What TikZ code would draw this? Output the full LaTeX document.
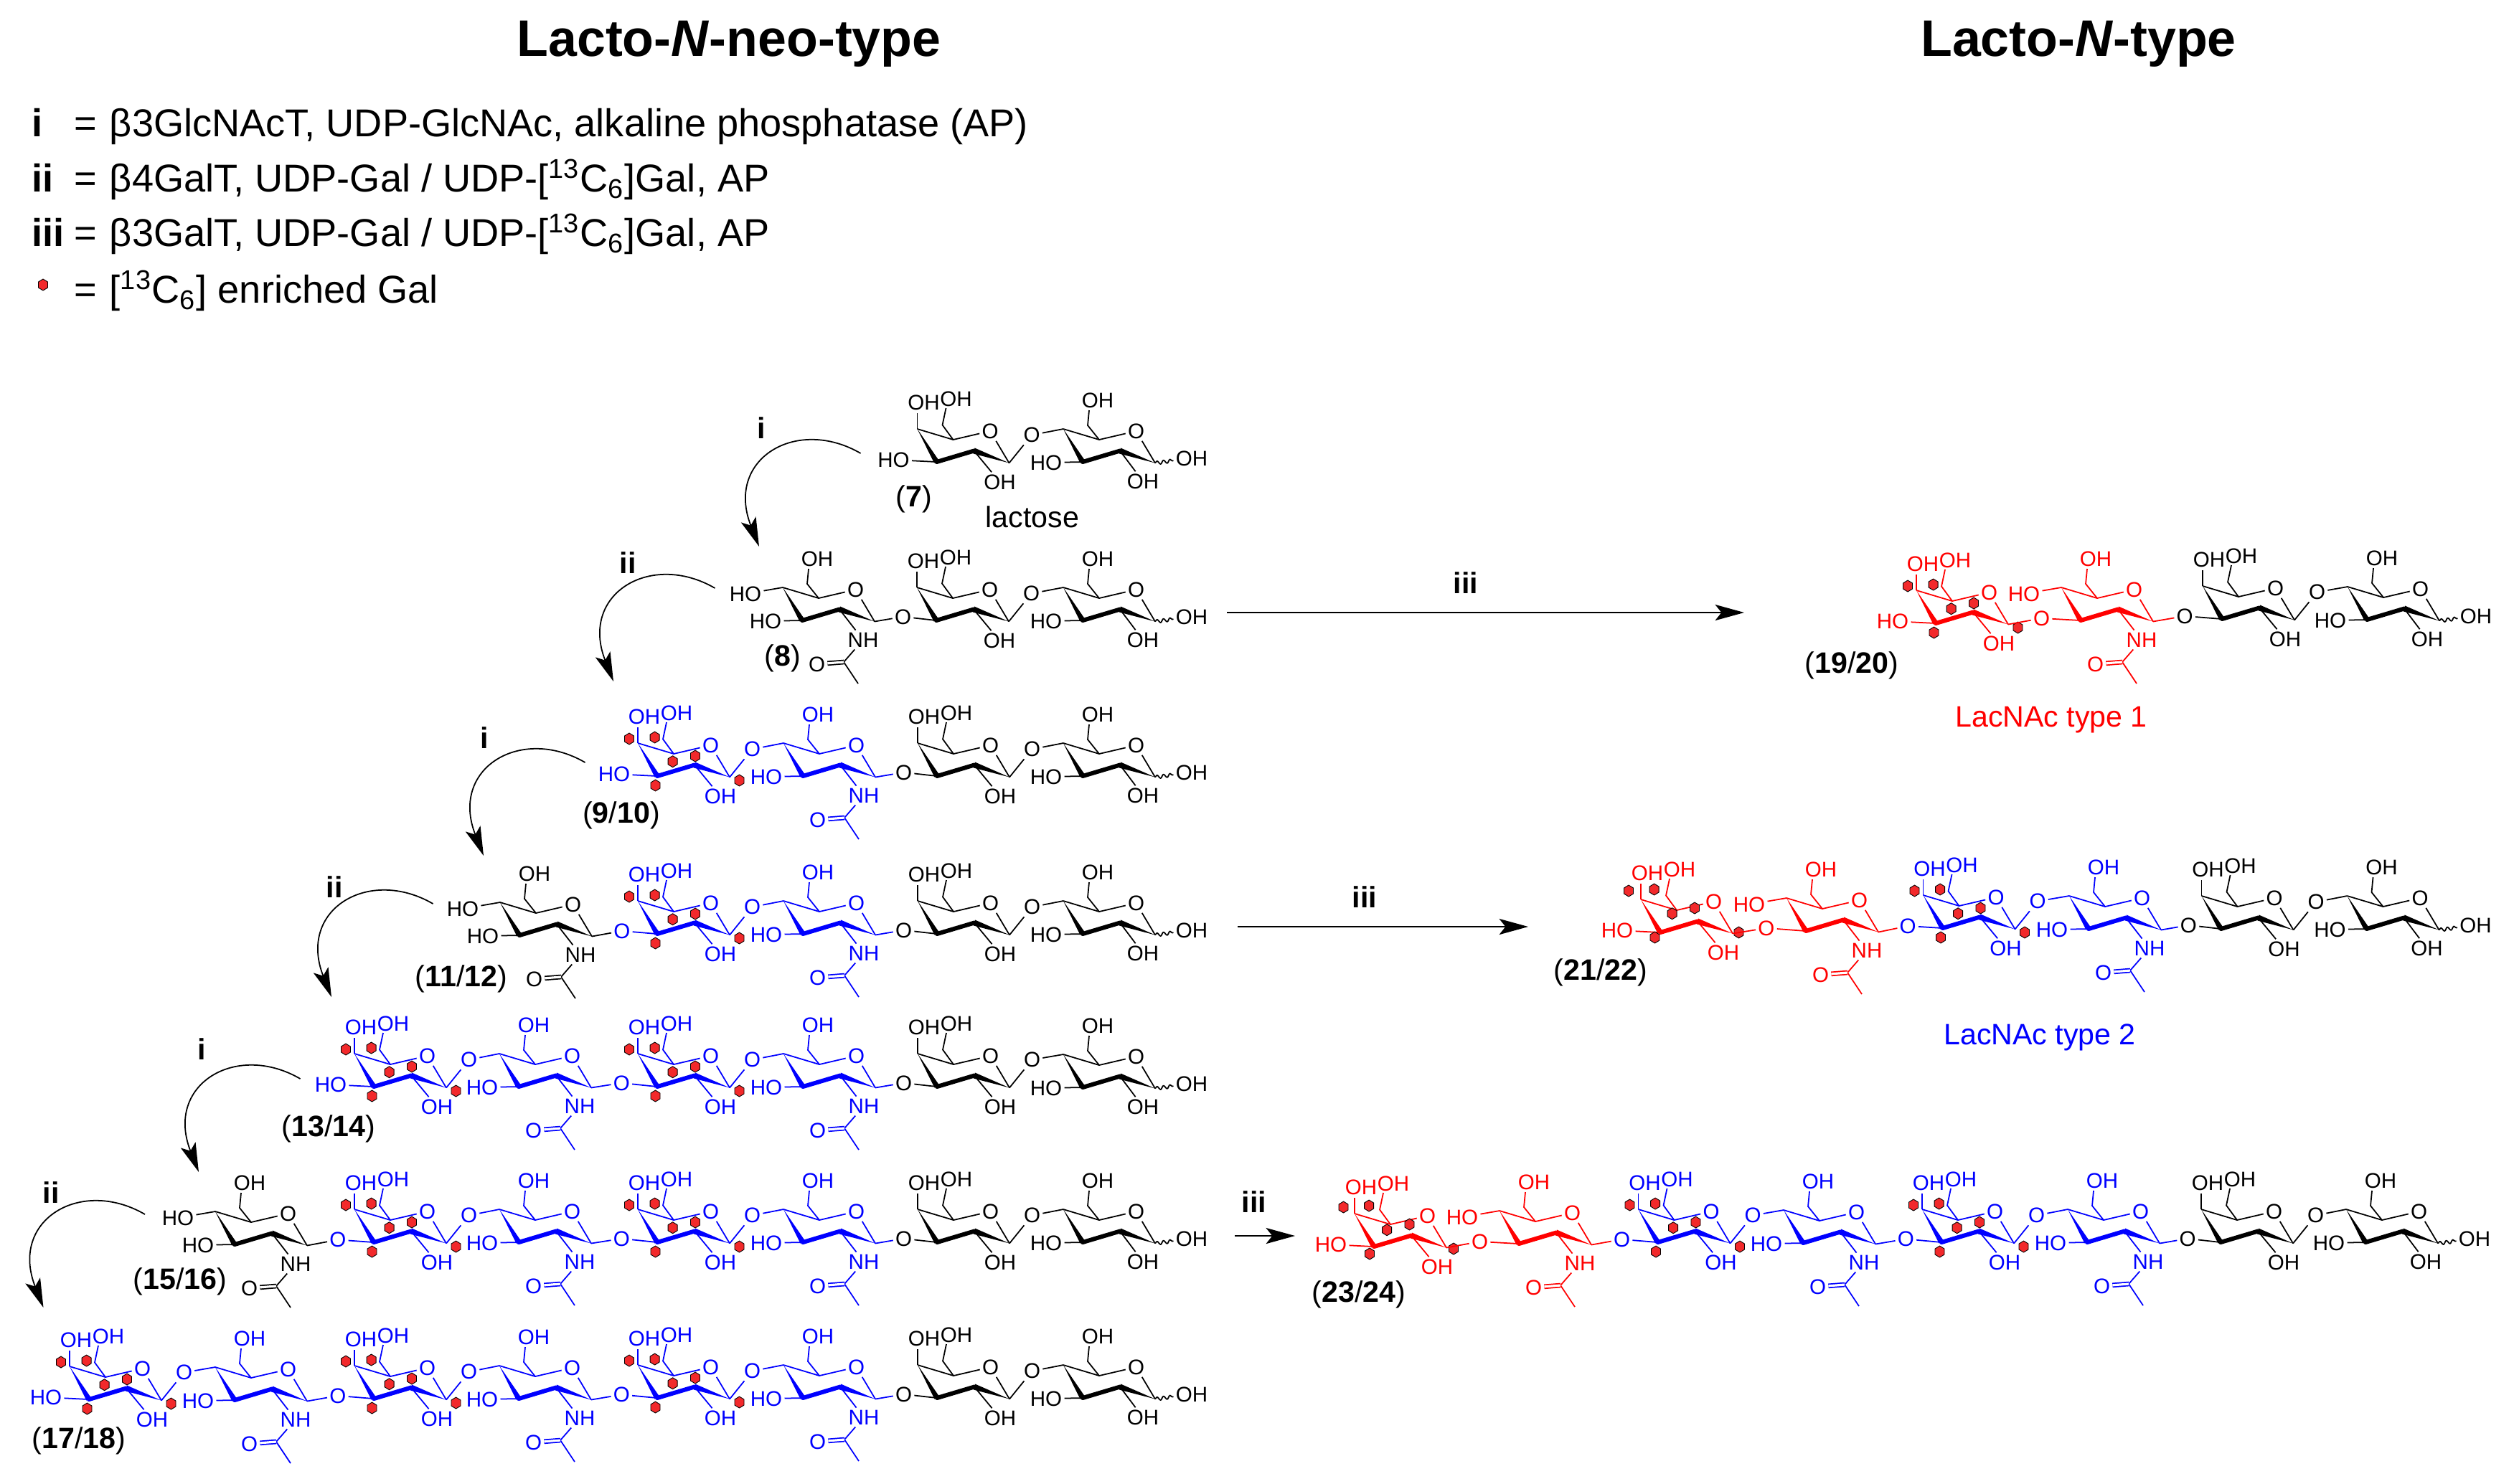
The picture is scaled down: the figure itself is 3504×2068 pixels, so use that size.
\documentclass[tikz,border=0pt]{standalone}
\usepackage{fontspec}
\setmainfont{Liberation Sans}
\usepackage{xcolor}
\definecolor{label13c}{rgb}{0.95, 0.16, 0.17}
\usetikzlibrary{arrows.meta}
\usetikzlibrary{decorations.pathmorphing}
\usetikzlibrary{calc}

\tikzset{
	atom/.style={font=\fontsize{8.4}{9}\selectfont, inner sep=0.7pt},
	boldbond/.style={line width=1.7pt, line cap=round},
	dblbond/.style={double, double distance=0.9pt},
	wavybond/.style={decorate, decoration={snake, amplitude=0.7pt, segment length=2.6pt}},
	hexmark/.style={fill=label13c, draw=black, line width=0.25pt},
	number/.style={font=\fontsize{11.7}{13}\selectfont, anchor=base, inner sep=0pt},
	reagent/.style={font=\fontsize{11.7}{13}\selectfont\bfseries, anchor=base, inner sep=0pt},
	legend/.style={font=\fontsize{15.4}{17}\selectfont, anchor=base west, inner sep=0pt},
	heading/.style={font=\fontsize{20.4}{22}\selectfont\bfseries, anchor=base, inner sep=0pt},
	arrowline/.style={-{Stealth[length=11.5pt, width=6.3pt, inset=2.5pt]}},
}

%one ring, all units have the same ring
\newcommand{\ringcore}[4]{
	\begin{scope}[shift={(#2,#3)},#4]
		\coordinate (#1c4) at (0,0);
		\coordinate (#1c5) at (50,15);
		\coordinate (#1c1) at (128,47.5);
		\coordinate (#1c2) at (79,30.5);
		\coordinate (#1c3) at (27,46);
		\node[atom] (#1o) at (101.5,3) {O};
		\draw (#1c4) -- (#1c5) -- (#1o) -- (#1c1);
		\fill (#1c4) -- (23.5,47.5) -- (30.5,44.5) -- cycle;
		\draw[boldbond] (#1c3) -- (#1c2);
		\fill (#1c1) -- (80,26.5) -- (78,34.5) -- cycle;
	\end{scope}
}
%galactose
\newcommand{\galunit}[4]{
	\ringcore{#1}{#2}{#3}{#4}
	\begin{scope}[shift={(#2,#3)},#4]
		\coordinate (#1c6) at (35,-5.5);
		\coordinate (#1e6) at (40,-29);
		\coordinate (#1e4) at (0,-22);
		\node[atom] (#1oh6) at (54,-42) {OH};
		\node[atom] (#1oh4) at (9,-37) {OH};
		\node[atom] (#1oh2) at (115,74) {OH};
		\draw (#1c5) -- (#1c6) -- (#1e6);
		\draw (#1c4) -- (#1e4);
		\draw (#1c2) -- (#1oh2);
	\end{scope}
}
%same upper arm for glucose and glcnac
\newcommand{\glcbase}[4]{
	\ringcore{#1}{#2}{#3}{#4}
	\begin{scope}[shift={(#2,#3)},#4]
		\coordinate (#1c6) at (34,-5);
		\coordinate (#1e6) at (36,-26);
		\node[atom] (#1oh6) at (48,-40) {OH};
		\draw (#1c5) -- (#1c6) -- (#1e6);
	\end{scope}
}
\newcommand{\glcunit}[4]{
	\glcbase{#1}{#2}{#3}{#4}
	\begin{scope}[shift={(#2,#3)},#4]
		\node[atom] (#1oh2) at (111,73) {OH};
		\node[atom] (#1oh1) at (179,41) {OH};
		\draw (#1c2) -- (#1oh2);
		\draw[wavybond] (#1c1) -- (#1oh1);
	\end{scope}
	\hoglc{#1}{#4}
}
\newcommand{\glcnacunit}[4]{
	\glcbase{#1}{#2}{#3}{#4}
	\begin{scope}[shift={(#2,#3)},#4]
		\node[atom] (#1nh) at (112,73) {NH};
		\coordinate (#1c7) at (85,104);
		\coordinate (#1me) at (105,134);
		\node[atom] (#1oc) at (47.5,107) {O};
		\draw (#1c2) -- (#1nh);
		\draw (#1nh) -- (#1c7) -- (#1me);
		\draw[dblbond] (#1c7) -- (#1oc);
	\end{scope}
}
%free hydroxyls on the left of a ring
\newcommand{\hogal}[2]{
	\node[atom,#2] (#1ho3) at ($(#1c4)+(-33,43)$) {HO};
	\draw[#2] (#1c3) -- (#1ho3);
}
\newcommand{\hoglc}[2]{
	\node[atom,#2] (#1ho3) at ($(#1c4)+(-24,47)$) {HO};
	\draw[#2] (#1c3) -- (#1ho3);
}
\newcommand{\hofour}[2]{
	\node[atom,#2] (#1ho4) at ($(#1c4)+(-52,9)$) {HO};
	\draw[#2] (#1c4) -- (#1ho4);
}
%glycosidic links, the o has the colour of the right ring
\newcommand{\linkthree}[4]{
	\node[atom,#4] (#1#2o) at ($(#1c1)!.46!(#2c3)+(0,-6)$) {O};
	\draw[#3] (#1c1) -- (#1#2o);
	\draw[#4] (#1#2o) -- (#2c3);
}
\newcommand{\linkfour}[4]{
	\node[atom,#4] (#1#2o) at ($(#1c1)+(31.5,-39)$) {O};
	\draw[#3] (#1c1) -- (#1#2o);
	\draw[#4] (#1#2o) -- (#2c4);
}
%13C marks of one gal, #3 #4 move them
\newcommand{\hexset}[4]{
	\begin{scope}[shift={(#1,#2)}]
		\foreach \hx/\hy in {-12/-6,23.6/-8,48.6/25.7,80/18,24.5/59,141.5/52}
		\filldraw[hexmark] (\hx+#3,\hy+#4) +(0,-8) -- +(6.5,-4) -- +(6.5,4) -- +(0,8) -- +(-6.5,4) -- +(-6.5,-4) -- cycle;
	\end{scope}
}
%lactose end of a chain
\newcommand{\lactail}[5]{
	\galunit{#1g}{#2}{#3}{black}
	\glcunit{#1h}{#4}{#5}{black}
	\linkfour{#1g}{#1h}{black}{black}
}
%one gal-glcnac disaccharide
\newcommand{\lacnac}[5]{
	\galunit{#1g}{#2}{#3}{blue}
	\glcnacunit{#1n}{#4}{#5}{blue}
	\hoglc{#1n}{blue}
	\linkfour{#1g}{#1n}{blue}{blue}
	\hexset{#2}{#3}{0}{0}
}
%curved reaction arrow, given by its tip
\newcommand{\turnarrow}[3]{
	\coordinate (#1t) at (#2,#3);
	\coordinate (#1s) at ($(#1t)+(141.5,-130)$);
	\draw[arrowline] (#1s) .. controls ($(#1t)+(52,-182)$) and ($(#1t)+(-48,-122)$) .. (#1t);
}

\begin{document}
\begin{tikzpicture}[x=0.01cm,y=-0.01cm,line width=0.5pt,line join=round]
	\useasboundingbox (0,0) rectangle (3504,2068);

	%titles
	\node[heading] (titleneo) at (1016,78) {Lacto-\textit{N}-neo-type};
	\node[heading] (titletype) at (2897,78) {Lacto-\textit{N}-type};

	%legend
	\node[legend] (legi) at (44,190) {\textbf{i}};
	\node[legend] (legieq) at (103,190) {=};
	\node[legend] (legitext) at (152,190) {β3GlcNAcT, UDP-GlcNAc, alkaline phosphatase (AP)};
	\node[legend] (legii) at (44,267) {\textbf{ii}};
	\node[legend] (legiieq) at (103,267) {=};
	\node[legend] (legiitext) at (152,267) {β4GalT, UDP-Gal / UDP-[\textsuperscript{13}C\textsubscript{6}]Gal, AP};
	\node[legend] (legiii) at (44,343) {\textbf{iii}};
	\node[legend] (legiiieq) at (103,343) {=};
	\node[legend] (legiiitext) at (152,343) {β3GalT, UDP-Gal / UDP-[\textsuperscript{13}C\textsubscript{6}]Gal, AP};
	\filldraw[hexmark] (60,397) +(0,-8) -- +(6.5,-4) -- +(6.5,4) -- +(0,8) -- +(-6.5,4) -- +(-6.5,-4) -- cycle;
	\node[legend] (legheq) at (103,422) {=};
	\node[legend] (leghtext) at (152,422) {[\textsuperscript{13}C\textsubscript{6}] enriched Gal};

	%lactose 7
	\lactail{a}{1278.5}{598}{1482}{598}
	\hogal{ag}{black}
	\node[number] (cmpa) at (1274,706) {(\textbf{7})};
	\node[number] (lactose) at (1439,735) {lactose};

	%8
	\lactail{b}{1278}{819}{1482}{819}
	\glcnacunit{bn}{1091}{819}{black}
	\hoglc{bn}{black}
	\hofour{bn}{black}
	\linkthree{bn}{bg}{black}{black}
	\node[number] (cmpb) at (1091,928) {(\textbf{8})};

	%9/10
	\lactail{c}{1279}{1036}{1482}{1036}
	\lacnac{cl}{889}{1036}{1092}{1036}
	\hogal{clg}{blue}
	\linkthree{cln}{cg}{blue}{black}
	\node[number] (cmpc) at (866,1147) {(\textbf{9}/\textbf{10})};

	%11/12
	\lactail{d}{1279}{1256}{1482}{1256}
	\lacnac{dl}{889}{1256}{1092}{1256}
	\linkthree{dln}{dg}{blue}{black}
	\glcnacunit{dn}{697}{1258}{black}
	\hoglc{dn}{black}
	\hofour{dn}{black}
	\linkthree{dn}{dlg}{black}{blue}
	\node[number] (cmpd) at (643,1375) {(\textbf{11}/\textbf{12})};

	%13/14
	\lactail{e}{1279}{1469}{1482}{1470}
	\lacnac{el}{889}{1469}{1092}{1469}
	\linkthree{eln}{eg}{blue}{black}
	\lacnac{em}{494}{1469}{696}{1469}
	\hogal{emg}{blue}
	\linkthree{emn}{elg}{blue}{blue}
	\node[number] (cmpe) at (458,1584) {(\textbf{13}/\textbf{14})};

	%15/16
	\lactail{f}{1279}{1686}{1482}{1686}
	\lacnac{fl}{889}{1686}{1092}{1686}
	\linkthree{fln}{fg}{blue}{black}
	\lacnac{fm}{494}{1686}{696}{1686}
	\linkthree{fmn}{flg}{blue}{blue}
	\glcnacunit{fn}{300}{1689}{black}
	\hoglc{fn}{black}
	\hofour{fn}{black}
	\linkthree{fn}{fmg}{black}{blue}
	\node[number] (cmpf) at (251,1797) {(\textbf{15}/\textbf{16})};

	%17/18
	\lactail{h}{1279}{1903}{1482}{1903}
	\lacnac{hl}{889}{1903}{1092}{1903}
	\linkthree{hln}{hg}{blue}{black}
	\lacnac{hm}{494}{1904}{696}{1904}
	\linkthree{hmn}{hlg}{blue}{blue}
	\lacnac{hk}{97}{1905}{300}{1906}
	\hogal{hkg}{blue}
	\linkthree{hkn}{hmg}{blue}{blue}
	\node[number] (cmph) at (110,2019) {(\textbf{17}/\textbf{18})};

	%19/20
	\lactail{p}{3070}{817}{3272}{818}
	\galunit{prg}{2671}{823}{red}
	\hogal{prg}{red}
	\hexset{2671}{823}{0}{0}
	\glcnacunit{prn}{2873}{819}{red}
	\hofour{prn}{red}
	\linkthree{prg}{prn}{red}{red}
	\linkthree{prn}{pg}{red}{black}
	\node[number] (cmpp) at (2581,938) {(\textbf{19}/\textbf{20})};
	\node[number,red] (typeone) at (2859,1013) {LacNAc type 1};

	%21/22
	\lactail{q}{3068.5}{1249}{3271.5}{1249}
	\lacnac{ql}{2680.5}{1248}{2884}{1249}
	\linkthree{qln}{qg}{blue}{black}
	\galunit{qrg}{2287}{1254}{red}
	\hogal{qrg}{red}
	\hexset{2287}{1254}{-5}{-6}
	\glcnacunit{qrn}{2490}{1252}{red}
	\hofour{qrn}{red}
	\linkthree{qrg}{qrn}{red}{red}
	\linkthree{qrn}{qlg}{red}{blue}
	\node[number] (cmpq) at (2231,1366) {(\textbf{21}/\textbf{22})};
	\node[number,blue] (typetwo) at (2843,1456) {LacNAc type 2};

	%23/24
	\lactail{s}{3068}{1686}{3270}{1686}
	\lacnac{sl}{2679}{1686}{2882}{1686}
	\linkthree{sln}{sg}{blue}{black}
	\lacnac{sm}{2283.5}{1686}{2486}{1687}
	\linkthree{smn}{slg}{blue}{blue}
	\galunit{srg}{1888}{1692}{red}
	\hogal{srg}{red}
	\hexset{1888}{1692}{-3.5}{-3}
	\glcnacunit{srn}{2090}{1688}{red}
	\hofour{srn}{red}
	\linkthree{srg}{srn}{red}{red}
	\linkthree{srn}{smg}{red}{blue}
	\node[number] (cmps) at (1894,1815) {(\textbf{23}/\textbf{24})};

	%curved arrows
	\turnarrow{ta}{1058}{762}
	\node[reagent] (ria) at (1061,611) {i};
	\turnarrow{tb}{855}{950}
	\node[reagent] (rib) at (875,799) {ii};
	\turnarrow{tc}{674}{1193}
	\node[reagent] (ric) at (675,1043) {i};
	\turnarrow{td}{462}{1390}
	\node[reagent] (rid) at (466,1251) {ii};
	\turnarrow{te}{277}{1634}
	\node[reagent] (rie) at (281,1477) {i};
	\turnarrow{tf}{60.5}{1823}
	\node[reagent] (rif) at (71,1677) {ii};

	%straight arrows
	\coordinate (sa1) at (1710,854);
	\coordinate (sa2) at (2431,854);
	\draw[arrowline] (sa1) -- (sa2);
	\node[reagent] (rsa) at (2043,827) {iii};
	\coordinate (sb1) at (1725,1292);
	\coordinate (sb2) at (2130,1292);
	\draw[arrowline] (sb1) -- (sb2);
	\node[reagent] (rsb) at (1902,1265) {iii};
	\coordinate (sc1) at (1721,1723);
	\coordinate (sc2) at (1805,1723);
	\draw[arrowline] (sc1) -- (sc2);
	\node[reagent] (rsc) at (1748,1690) {iii};
\end{tikzpicture}
\end{document}
